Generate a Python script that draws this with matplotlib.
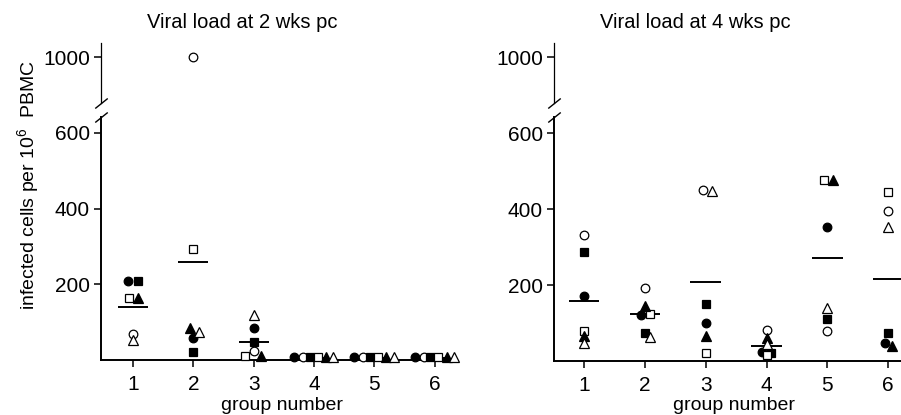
import numpy as np
import matplotlib
matplotlib.use("Agg")
import matplotlib.pyplot as plt
import matplotlib.transforms as mtransforms

plt.rcParams['font.family'] = ['Liberation Sans', 'DejaVu Sans']
plt.rcParams['mathtext.fontset'] = 'custom'
plt.rcParams['mathtext.rm'] = 'Liberation Sans'
plt.rcParams['mathtext.it'] = 'Liberation Sans'

groups = [1, 2, 3, 4, 5, 6]

# infected cells per 10^6 PBMC, 2 wks pc (one value per group)
wk2_filled_circle = [209, 57, 84, 9, 9, 9]
wk2_open_circle = [69, 1000, 24, 9, 9, 9]
wk2_filled_square = [209, 22, 48, 9, 9, 9]
wk2_open_square = [165, 292, 11, 9, 9, 9]
wk2_filled_triangle = [165, 84, 11, 9, 9, 9]
wk2_open_triangle = [53, 74, 118, 9, 9, 9]
wk2_mean = [141, 260, 48, 6, 5, 6]

# 4 wks pc
wk4_filled_circle = [172, 122, 100, 25, 352, 48]
wk4_open_circle = [332, 191, 450, 82, 78, 394]
wk4_filled_square = [287, 75, 150, 22, 110, 73]
wk4_open_square = [78, 124, 22, 16, 477, 446]
wk4_filled_triangle = [66, 144, 66, 60, 477, 40]
wk4_open_triangle = [47, 62, 447, 45, 139, 354]
wk4_mean = [159, 124, 207, 40, 272, 217]

# horizontal jitter so overlapping symbols stay visible
spread = [-0.33, -0.18, -0.07, 0.06, 0.2, 0.32]
wk2_dx = {
    'fc': [-0.08, 0, 0, spread[0], spread[0], spread[0]],
    'oc': [0, 0, 0, spread[1], spread[1], spread[1]],
    'fs': [0.08, 0, 0, spread[2], spread[2], spread[2]],
    'os': [-0.06, 0, -0.14, spread[3], spread[3], spread[3]],
    'ft': [0.09, -0.05, 0.13, spread[4], spread[4], spread[4]],
    'ot': [0, 0.1, 0, spread[5], spread[5], spread[5]],
}
wk4_dx = {
    'fc': [0, -0.06, 0, -0.07, 0, -0.06],
    'oc': [0, 0, -0.04, 0, 0, 0],
    'fs': [0, 0, 0, 0.08, 0, 0],
    'os': [0, 0.09, 0, 0, -0.06, 0],
    'ft': [0, 0, 0, 0, 0.1, 0.07],
    'ot': [0, 0.09, 0.1, 0, 0, 0],
}

styles = {
    'fc': dict(marker='o', mfc='black', ms=6.2),
    'oc': dict(marker='o', mfc='white', ms=6.2),
    'fs': dict(marker='s', mfc='black', ms=5.8),
    'os': dict(marker='s', mfc='white', ms=5.8),
    'ft': dict(marker='^', mfc='black', ms=6.8),
    'ot': dict(marker='^', mfc='white', ms=6.8),
}


def fwd(v):
    v = np.asarray(v, dtype=float)
    return np.where(v <= 600, v, 600 + (v - 600) / 2.0)


def inv(m):
    m = np.asarray(m, dtype=float)
    return np.where(m <= 600, m, 600 + (m - 600) * 2.0)


def panel(ax, series, dx, means, xlim):
    ax.set_yscale('function', functions=(fwd, inv))
    ax.set_ylim(0, 1075)
    ax.set_xlim(*xlim)
    g = np.array(groups, dtype=float)
    for key, vals in series.items():
        ax.plot(g + np.array(dx[key]), vals, ls='none', mec='black', mew=0.9,
                clip_on=False, zorder=3, **styles[key])
    ax.hlines(means, g - 0.25, g + 0.25, color='black', lw=1.4, zorder=2)

    for s in ['top', 'right', 'left']:
        ax.spines[s].set_visible(False)
    ax.spines['bottom'].set_linewidth(1.4)

    # broken y axis
    tr = mtransforms.blended_transform_factory(ax.transAxes, ax.transData)
    ax.plot([0, 0], [0, 684], color='black', lw=1.4, transform=tr, clip_on=False)
    ax.plot([0, 0], [758, 1075], color='black', lw=0.9, transform=tr, clip_on=False)
    slash = [(-1, -0.8), (1, 0.8)]
    ax.plot([0, 0], [684, 758], ls='none', marker=slash, ms=9, mew=1.0,
            color='black', transform=tr, clip_on=False)

    ax.set_xticks(groups)
    ax.set_yticks([200, 400, 600, 1000])
    ax.set_yticklabels(['200', '400', '600', '1000'])
    ax.tick_params(axis='both', direction='out', length=5, width=1.1,
                   labelsize=15, colors='black')
    ax.tick_params(axis='x', pad=6)
    ax.tick_params(axis='y', pad=3)


fig = plt.figure(figsize=(9.01, 4.15), dpi=100)
ax1 = fig.add_axes([101 / 901, 55 / 415, 349 / 901, 317 / 415])
ax2 = fig.add_axes([554 / 901, 54 / 415, 347 / 901, 318 / 415])

panel(ax1, {'fc': wk2_filled_circle, 'oc': wk2_open_circle, 'fs': wk2_filled_square,
            'os': wk2_open_square, 'ft': wk2_filled_triangle, 'ot': wk2_open_triangle},
      wk2_dx, wk2_mean, (0.469, 6.257))
panel(ax2, {'fc': wk4_filled_circle, 'oc': wk4_open_circle, 'fs': wk4_filled_square,
            'os': wk4_open_square, 'ft': wk4_filled_triangle, 'ot': wk4_open_triangle},
      wk4_dx, wk4_mean, (0.507, 6.21))

fig.text(242 / 901, 1 - 22 / 415, 'Viral load at 2 wks pc', ha='center', va='center', fontsize=14.5)
fig.text(695 / 901, 1 - 22 / 415, 'Viral load at 4 wks pc', ha='center', va='center', fontsize=14.5)
fig.text(282 / 901, 10 / 415, 'group number', ha='center', va='center', fontsize=14)
fig.text(734 / 901, 10 / 415, 'group number', ha='center', va='center', fontsize=14)
fig.text(28 / 901, 1 - 185 / 415, 'infected cells per 10$^{6}$  PBMC', rotation=90,
         ha='center', va='center', fontsize=14)

fig.savefig('out.png', dpi=100)
